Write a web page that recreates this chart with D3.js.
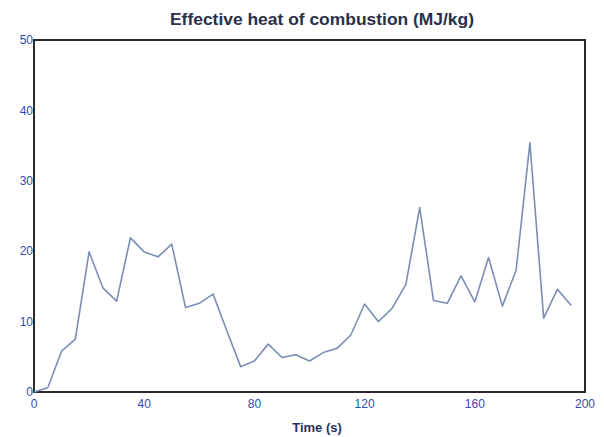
<!DOCTYPE html>
<html>
<head>
    <meta charset="utf-8" />
    <title>Effective heat of combustion</title>
    <script src="https://cdn.jsdelivr.net/npm/d3@7"></script>
    <style>
        body {
            margin: 0;
            padding: 0;
            background: #fff;
        }
        .tick-label {
            font: 12px "Liberation Sans", Arial, sans-serif;
            fill: #2f4db0;
        }
        .title {
            font: bold 17px "Liberation Sans", Arial, sans-serif;
            fill: #2a2f4a;
        }
        .axis-title {
            font: bold 13px "Liberation Sans", Arial, sans-serif;
            fill: #2a3060;
        }
    </style>
</head>
<body>
<svg id="chart" width="604" height="437"></svg>
<script>

// data
var times = [0, 5, 10, 15, 20, 25, 30, 35, 40, 45,
             50, 55, 60, 65, 70, 75, 80, 85, 90, 95,
             100, 105, 110, 115, 120, 125, 130, 135, 140, 145,
             150, 155, 160, 165, 170, 175, 180, 185, 190, 195];
var heat = [0, 0.6, 5.8, 7.5, 19.9, 14.8, 12.9, 21.9, 19.9, 19.2,
            21.0, 12.0, 12.6, 13.9, 8.7, 3.6, 4.4, 6.8, 4.9, 5.3,
            4.4, 5.6, 6.2, 8.1, 12.5, 10.0, 11.9, 15.3, 26.2, 13.0,
            12.6, 16.5, 12.8, 19.1, 12.2, 17.3, 35.4, 10.5, 14.6, 12.3];
var xTicks = [0, 40, 80, 120, 160, 200];
var yTicks = [0, 10, 20, 30, 40, 50];

function drawChart() {
  var svg = d3.select("#chart");

  var plotLeft = 34, plotRight = 585, plotTop = 40, plotBottom = 392;

  var x = d3.scaleLinear().domain([0, 200]).range([plotLeft, plotRight]);
  var y = d3.scaleLinear().domain([0, 50]).range([plotBottom, plotTop]);

  // frame
  svg.append("rect")
      .attr("x", plotLeft)
      .attr("y", plotTop)
      .attr("width", plotRight - plotLeft)
      .attr("height", plotBottom - plotTop)
      .attr("fill", "none")
      .attr("stroke", "#2b2b2b")
      .attr("stroke-width", 2);

  // y tick labels
  svg.append("g").selectAll("text")
      .data(yTicks)
      .enter().append("text")
        .attr("class", "tick-label")
        .attr("x", plotLeft - 1)
        .attr("y", function(d) { return y(d); })
        .attr("dy", "0.35em")
        .attr("text-anchor", "end")
        .text(function(d) { return d; });

  // x tick labels
  svg.append("g").selectAll("text")
      .data(xTicks)
      .enter().append("text")
        .attr("class", "tick-label")
        .attr("x", function(d) { return x(d); })
        .attr("y", plotBottom + 16)
        .attr("text-anchor", "middle")
        .text(function(d) { return d; });

  // the series
  var line = d3.line()
      .x(function(d, i) { return x(times[i]); })
      .y(function(d) { return y(d); });

  svg.append("path")
      .datum(heat)
      .attr("fill", "none")
      .attr("stroke", "#7c8db5")
      .attr("stroke-width", 1.6)
      .attr("stroke-linejoin", "round")
      .attr("d", line);

  // titles
  svg.append("text")
      .attr("class", "title")
      .attr("x", 322)
      .attr("y", 25)
      .attr("text-anchor", "middle")
      .attr("textLength", 304)
      .attr("lengthAdjust", "spacingAndGlyphs")
      .text("Effective heat of combustion (MJ/kg)");

  svg.append("text")
      .attr("class", "axis-title")
      .attr("x", 317)
      .attr("y", 432)
      .attr("text-anchor", "middle")
      .text("Time (s)");
}

drawChart();

</script>
</body>
</html>
